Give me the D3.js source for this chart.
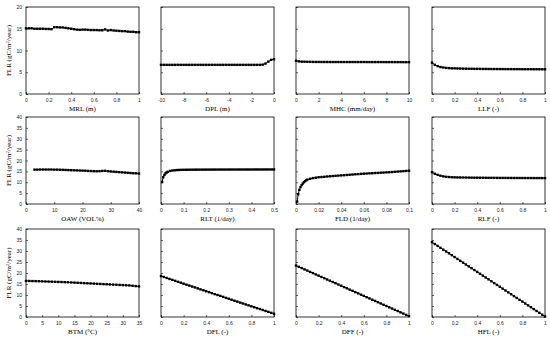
<!DOCTYPE html>
<html>
<head>
<meta charset="utf-8">
<script src="https://cdn.jsdelivr.net/npm/d3@7"></script>
<style>
  body { margin: 0; background: #fff; }
  svg { display: block; font-family: "Liberation Serif", "Times New Roman", serif; }
  .tick text { font-size: 5px; fill: #222; }
  .tick line { stroke: #000; stroke-width: 0.6; }
</style>
</head>
<body>
<svg id="chart" width="550" height="338"></svg>
<script>
// sample points shared by the 0..1 sweeps
const x01 = [0, 0.025, 0.05, 0.075, 0.1, 0.125, 0.15, 0.175, 0.2, 0.225, 0.25, 0.275, 0.3, 0.325, 0.35, 0.375, 0.4, 0.425, 0.45, 0.475, 0.5,
  0.525, 0.55, 0.575, 0.6, 0.625, 0.65, 0.675, 0.7, 0.725, 0.75, 0.775, 0.8, 0.825, 0.85, 0.875, 0.9, 0.925, 0.95, 0.975, 1];

const mrlFlr = [15.1, 15.1, 15.1, 15.0, 15.0, 15.0, 15.0, 14.95, 14.95, 14.9, 15.35, 15.35, 15.3, 15.3, 15.2, 15.1, 15.0, 14.9, 14.8, 14.75,
  14.8, 14.8, 14.75, 14.7, 14.7, 14.7, 14.65, 14.65, 14.85, 14.6, 14.7, 14.6, 14.55, 14.5, 14.45, 14.45, 14.35, 14.3, 14.3, 14.2, 14.2];

const dplX = [-10, -9.75, -9.5, -9.25, -9, -8.75, -8.5, -8.25, -8, -7.75, -7.5, -7.25, -7, -6.75, -6.5, -6.25, -6, -5.75, -5.5, -5.25, -5,
  -4.75, -4.5, -4.25, -4, -3.75, -3.5, -3.25, -3, -2.75, -2.5, -2.25, -2, -1.75, -1.5, -1.25, -1, -0.75, -0.5, -0.25, 0];
const dplFlr = [6.7, 6.7, 6.7, 6.7, 6.7, 6.7, 6.7, 6.7, 6.7, 6.7, 6.7, 6.7, 6.7, 6.7, 6.7, 6.7, 6.7, 6.7, 6.7, 6.7,
  6.7, 6.7, 6.7, 6.7, 6.7, 6.7, 6.7, 6.7, 6.7, 6.7, 6.7, 6.7, 6.7, 6.7, 6.7, 6.7, 6.75, 7.0, 7.45, 7.85, 8.0];

const mhcX = [0, 0.25, 0.5, 0.75, 1, 1.25, 1.5, 1.75, 2, 2.25, 2.5, 2.75, 3, 3.25, 3.5, 3.75, 4, 4.25, 4.5, 4.75, 5,
  5.25, 5.5, 5.75, 6, 6.25, 6.5, 6.75, 7, 7.25, 7.5, 7.75, 8, 8.25, 8.5, 8.75, 9, 9.25, 9.5, 9.75, 10];
const mhcFlr = [7.65, 7.5, 7.44, 7.42, 7.4, 7.39, 7.38, 7.37, 7.37, 7.36, 7.36, 7.36, 7.35, 7.35, 7.35, 7.35, 7.35, 7.35, 7.35, 7.35,
  7.35, 7.35, 7.35, 7.35, 7.35, 7.34, 7.34, 7.34, 7.34, 7.34, 7.34, 7.34, 7.33, 7.33, 7.33, 7.33, 7.33, 7.33, 7.32, 7.32, 7.32];

const llfFlr = [7.2, 6.7, 6.4, 6.2, 6.1, 6.0, 5.95, 5.9, 5.9, 5.87, 5.85, 5.83, 5.82, 5.8, 5.8, 5.78, 5.78, 5.77, 5.76, 5.76,
  5.75, 5.75, 5.74, 5.74, 5.73, 5.73, 5.72, 5.72, 5.72, 5.71, 5.71, 5.71, 5.7, 5.7, 5.7, 5.7, 5.69, 5.69, 5.69, 5.68, 5.68];

const oawX = [3, 4, 5, 6, 7, 8, 9, 10, 11, 12, 13, 14, 15, 16, 17, 18, 19, 20, 21, 22, 23, 24, 25, 26, 27, 28, 29, 30,
  31, 32, 33, 34, 35, 36, 37, 38, 39, 40];
const oawFlr = [15.8, 15.8, 15.85, 15.85, 15.85, 15.85, 15.85, 15.8, 15.8, 15.75, 15.7, 15.65, 15.6, 15.55, 15.5, 15.45, 15.4, 15.35,
  15.3, 15.2, 15.15, 15.1, 15.05, 15.1, 15.2, 15.25, 15.1, 14.95, 14.85, 14.75, 14.65, 14.55, 14.45, 14.35, 14.25, 14.15, 14.1, 14.0];

const rltX = [0.005, 0.01, 0.015, 0.02, 0.025, 0.03, 0.04, 0.05, 0.06, 0.07, 0.08, 0.09,
  0.1, 0.11, 0.12, 0.13, 0.14, 0.15, 0.16, 0.17, 0.18, 0.19, 0.2, 0.21, 0.22, 0.23, 0.24, 0.25, 0.26, 0.27, 0.28, 0.29, 0.3,
  0.31, 0.32, 0.33, 0.34, 0.35, 0.36, 0.37, 0.38, 0.39, 0.4, 0.41, 0.42, 0.43, 0.44, 0.45, 0.46, 0.47, 0.48, 0.49, 0.5];
const rltFlr = [10.1, 12.3, 13.4, 14.1, 14.5, 14.8, 15.2, 15.4, 15.5, 15.6, 15.65, 15.7,
  15.72, 15.74, 15.76, 15.77, 15.78, 15.79, 15.8, 15.8, 15.81, 15.81, 15.82, 15.82, 15.82, 15.83, 15.83, 15.83, 15.84, 15.84, 15.84, 15.84, 15.85,
  15.85, 15.85, 15.85, 15.85, 15.86, 15.86, 15.86, 15.86, 15.86, 15.86, 15.87, 15.87, 15.87, 15.87, 15.87, 15.87, 15.88, 15.88, 15.88, 15.88];

const fldX = [0.001, 0.002, 0.003, 0.004, 0.005, 0.006, 0.007, 0.008, 0.009, 0.01,
  0.0125, 0.015, 0.0175, 0.02, 0.0225, 0.025, 0.0275, 0.03, 0.0325, 0.035, 0.0375, 0.04, 0.0425, 0.045, 0.0475, 0.05,
  0.0525, 0.055, 0.0575, 0.06, 0.0625, 0.065, 0.0675, 0.07, 0.0725, 0.075, 0.0775, 0.08, 0.0825, 0.085, 0.0875, 0.09,
  0.0925, 0.095, 0.0975, 0.1];
const fldFlr = [1.1, 4.5, 6.5, 7.8, 8.7, 9.4, 10.0, 10.5, 10.9, 11.2,
  11.6, 11.9, 12.1, 12.3, 12.4, 12.5, 12.65, 12.75, 12.85, 12.95, 13.05, 13.15, 13.25, 13.35, 13.45, 13.55,
  13.65, 13.75, 13.85, 13.95, 14.0, 14.1, 14.15, 14.25, 14.3, 14.4, 14.45, 14.55, 14.6, 14.7, 14.8, 14.9,
  15.0, 15.1, 15.2, 15.3];

const rlfFlr = [14.6, 13.9, 13.4, 13.0, 12.7, 12.5, 12.4, 12.3, 12.25, 12.22, 12.2, 12.18, 12.16, 12.14, 12.12, 12.1, 12.1, 12.08, 12.06, 12.05,
  12.04, 12.03, 12.02, 12.01, 12.0, 12.0, 11.99, 11.98, 11.97, 11.96, 11.96, 11.95, 11.95, 11.94, 11.94, 11.93, 11.93, 11.92, 11.92, 11.91, 11.9];

const btmX = [0, 1, 2, 3, 4, 5, 6, 7, 8, 9, 10, 11, 12, 13, 14, 15, 16, 17, 18, 19, 20, 21, 22, 23, 24, 25, 26, 27, 28, 29,
  30, 31, 32, 33, 34, 35];
const btmFlr = [16.4, 16.37, 16.33, 16.3, 16.26, 16.2, 16.15, 16.1, 16.05, 16.0, 15.95, 15.9, 15.85, 15.78, 15.7, 15.62, 15.55, 15.48,
  15.4, 15.33, 15.25, 15.18, 15.1, 15.02, 14.95, 14.88, 14.8, 14.72, 14.65, 14.58, 14.5, 14.42, 14.35, 14.2, 14.05, 13.9];

const dflFlr = [18.6, 18.2, 17.75, 17.3, 16.9, 16.45, 16.0, 15.6, 15.15, 14.7, 14.3, 13.85, 13.45, 13.0, 12.55, 12.15, 11.7, 11.3, 10.85, 10.4,
  10.0, 9.6, 9.15, 8.7, 8.3, 7.85, 7.4, 7.0, 6.55, 6.15, 5.7, 5.3, 4.85, 4.45, 4.0, 3.6, 3.2, 2.75, 2.35, 1.9, 1.5];
const dffFlr = [23.4, 22.8, 22.25, 21.65, 21.1, 20.5, 19.95, 19.35, 18.8, 18.2, 17.65, 17.05, 16.5, 15.9, 15.35, 14.75, 14.2, 13.6, 13.05, 12.45,
  11.9, 11.3, 10.75, 10.15, 9.6, 9.0, 8.45, 7.85, 7.3, 6.7, 6.15, 5.55, 5.0, 4.4, 3.85, 3.25, 2.7, 2.1, 1.55, 0.95, 0.4];
const hflFlr = [34.0, 33.15, 32.3, 31.45, 30.6, 29.8, 28.95, 28.1, 27.25, 26.4, 25.55, 24.7, 23.85, 23.0, 22.2, 21.35, 20.5, 19.65, 18.8, 17.95,
  17.1, 16.25, 15.4, 14.6, 13.75, 12.9, 12.05, 11.2, 10.35, 9.5, 8.65, 7.8, 7.0, 6.15, 5.3, 4.45, 3.6, 2.75, 1.9, 1.05, 0.2];

// tick labels
const ticks01 = [0, 0.2, 0.4, 0.6, 0.8, 1];
const ticksDPL = [-10, -8, -6, -4, -2, 0];
const ticksMHC = [0, 2, 4, 6, 8, 10];
const ticksOAW = [0, 10, 20, 30, 40];
const ticksRLT = [0, 0.1, 0.2, 0.3, 0.4, 0.5];
const ticksFLD = [0, 0.02, 0.04, 0.06, 0.08, 0.1];
const ticksBTM = [0, 5, 10, 15, 20, 25, 30, 35];
const yTicks20 = [0, 5, 10, 15, 20];
const yTicks40 = [0, 5, 10, 15, 20, 25, 30, 35, 40];

const panels = [
  { name: "MRL (m)", xs: x01, ys: mrlFlr, xd: [0, 1], xt: ticks01 },
  { name: "DPL (m)", xs: dplX, ys: dplFlr, xd: [-10, 0], xt: ticksDPL },
  { name: "MHC (mm/day)", xs: mhcX, ys: mhcFlr, xd: [0, 10], xt: ticksMHC },
  { name: "LLF (-)", xs: x01, ys: llfFlr, xd: [0, 1], xt: ticks01 },
  { name: "OAW (VOL%)", xs: oawX, ys: oawFlr, xd: [0, 40], xt: ticksOAW },
  { name: "RLT (1/day)", xs: rltX, ys: rltFlr, xd: [0, 0.5], xt: ticksRLT },
  { name: "FLD (1/day)", xs: fldX, ys: fldFlr, xd: [0, 0.1], xt: ticksFLD },
  { name: "RLF (-)", xs: x01, ys: rlfFlr, xd: [0, 1], xt: ticks01 },
  { name: "BTM (\u00B0C)", xs: btmX, ys: btmFlr, xd: [0, 35], xt: ticksBTM },
  { name: "DFL (-)", xs: x01, ys: dflFlr, xd: [0, 1], xt: ticks01 },
  { name: "DFF (-)", xs: x01, ys: dffFlr, xd: [0, 1], xt: ticks01 },
  { name: "HFL (-)", xs: x01, ys: hflFlr, xd: [0, 1], xt: ticks01 }
];

const rowY = [
  { top: 7, bottom: 94, yd: [0, 20], yt: yTicks20 },
  { top: 117, bottom: 204, yd: [0, 40], yt: yTicks40 },
  { top: 229, bottom: 317, yd: [0, 40], yt: yTicks40 }
];
const colX = [26, 161, 296, 432];
const plotW = 113;

const svg = d3.select("#chart");

panels.forEach((p, i) => {
  const row = rowY[Math.floor(i / 4)];
  const left = colX[i % 4];

  const x = d3.scaleLinear().domain(p.xd).range([left, left + plotW]);
  const y = d3.scaleLinear().domain(row.yd).range([row.bottom, row.top]);

  const g = svg.append("g");

  g.append("g")
    .attr("transform", `translate(0,${row.bottom})`)
    .call(d3.axisBottom(x).tickValues(p.xt).tickFormat(d => String(d))
      .tickSize(-2).tickSizeOuter(0).tickPadding(4))
    .call(a => a.select(".domain").remove());

  const yAxis = g.append("g")
    .attr("transform", `translate(${left},0)`)
    .call(d3.axisLeft(y).tickValues(row.yt).tickFormat(d => String(d))
      .tickSize(-2).tickSizeOuter(0).tickPadding(4))
    .call(a => a.select(".domain").remove());
  if (i % 4 !== 0) yAxis.selectAll("text").remove();

  g.append("rect")
    .attr("x", x.range()[0])
    .attr("y", row.top)
    .attr("width", plotW)
    .attr("height", row.bottom - row.top)
    .attr("fill", "none")
    .attr("stroke", "#000")
    .attr("stroke-width", 0.8);

  const pts = p.xs.map((v, k) => [v, p.ys[k]]);

  g.append("path")
    .datum(pts)
    .attr("fill", "none")
    .attr("stroke", "#000")
    .attr("stroke-width", 1)
    .attr("d", d3.line().x(d => x(d[0])).y(d => y(d[1])));

  g.selectAll("rect.pt")
    .data(pts)
    .enter().append("rect")
    .attr("class", "pt")
    .attr("x", d => x(d[0]) - 1.2)
    .attr("y", d => y(d[1]) - 1.2)
    .attr("width", 2.4)
    .attr("height", 2.4)
    .attr("fill", "#000");

  g.append("text")
    .attr("x", left + plotW / 2)
    .attr("y", row.bottom + 16.5)
    .attr("text-anchor", "middle")
    .style("font-size", "7px")
    .text(p.name);

  if (i % 4 === 0) {
    const yl = g.append("text")
      .attr("transform", `translate(11,${(row.top + row.bottom) / 2}) rotate(-90)`)
      .attr("text-anchor", "middle")
      .style("font-size", "7px");
    yl.append("tspan").text("FLR (gC/m");
    yl.append("tspan").attr("dy", -2).style("font-size", "4.5px").text("2");
    yl.append("tspan").attr("dy", 2).text("/year)");
  }
});
</script>
</body>
</html>
